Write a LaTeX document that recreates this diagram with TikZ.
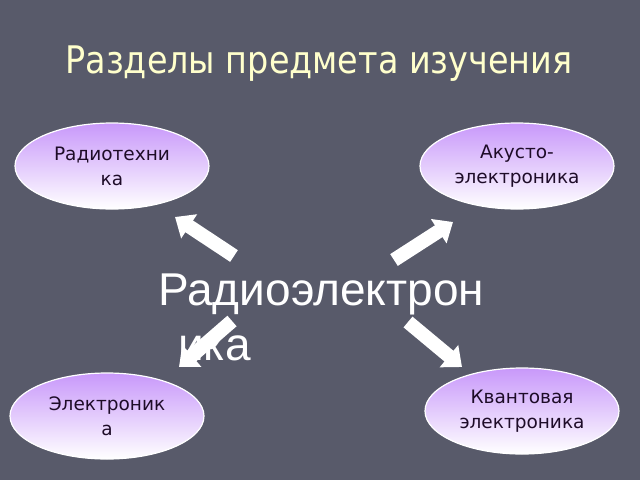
\documentclass[tikz,border=0pt]{standalone}
\usepackage{fontspec}
\usetikzlibrary{shapes.geometric,arrows.meta}
\newfontfamily\titlefont[FakeStretch=0.88]{DejaVu Sans}
\newfontfamily\ovalfont{DejaVu Sans}
\newfontfamily\bigfont{Liberation Sans}
\definecolor{bg}{RGB}{88,90,106}
\definecolor{titlecol}{RGB}{255,255,204}
\definecolor{ovaltop}{RGB}{200,152,250}
\definecolor{ovaltext}{RGB}{30,12,40}
\tikzset{
  oval/.style={ellipse, minimum width=194pt, minimum height=86pt, inner sep=0pt,
    draw=white, line width=1.2pt, top color=ovaltop, bottom color=white,
    text=ovaltext, align=center, font=\ovalfont\fontsize{18.5}{25}\selectfont},
  blockarrow/.style={draw=white, line width=14pt,
    -{Triangle[width=28pt,length=17pt]}}
}
\begin{document}
\begin{tikzpicture}[x=1pt,y=-1pt]
\fill[bg] (0,0) rectangle (640,480);
\useasboundingbox (0,0) rectangle (640,480);
\node[anchor=base, text=titlecol, inner sep=0pt, font=\titlefont\fontsize{38}{44}\selectfont] (title) at (319,73) {Разделы предмета изучения};
\node[oval] (rt) at (112,166) {Радиотехни\\ка};
\node[oval] (ak) at (517,166) {Акусто-\\электроника};
\node[oval] (el) at (107,416) {Электроник\\а};
\node[oval] (kv) at (522,411) {Квантовая\\электроника};
\node[anchor=base west, text=white, inner sep=0pt, align=left, font=\bigfont\fontsize{46}{55}\selectfont] (re) at (158,360) {Радиоэлектрон\\\hspace*{20pt}ика};
\coordinate (t1) at (234,256); \coordinate (h1) at (175,217);
\coordinate (t2) at (394,260); \coordinate (h2) at (453,222);
\coordinate (t3) at (232,321); \coordinate (h3) at (179,367);
\coordinate (t4) at (408,322); \coordinate (h4) at (462,367);
\draw[blockarrow] (t1) -- (h1);
\draw[blockarrow] (t2) -- (h2);
\draw[blockarrow] (t3) -- (h3);
\draw[blockarrow] (t4) -- (h4);
\end{tikzpicture}
\end{document}
